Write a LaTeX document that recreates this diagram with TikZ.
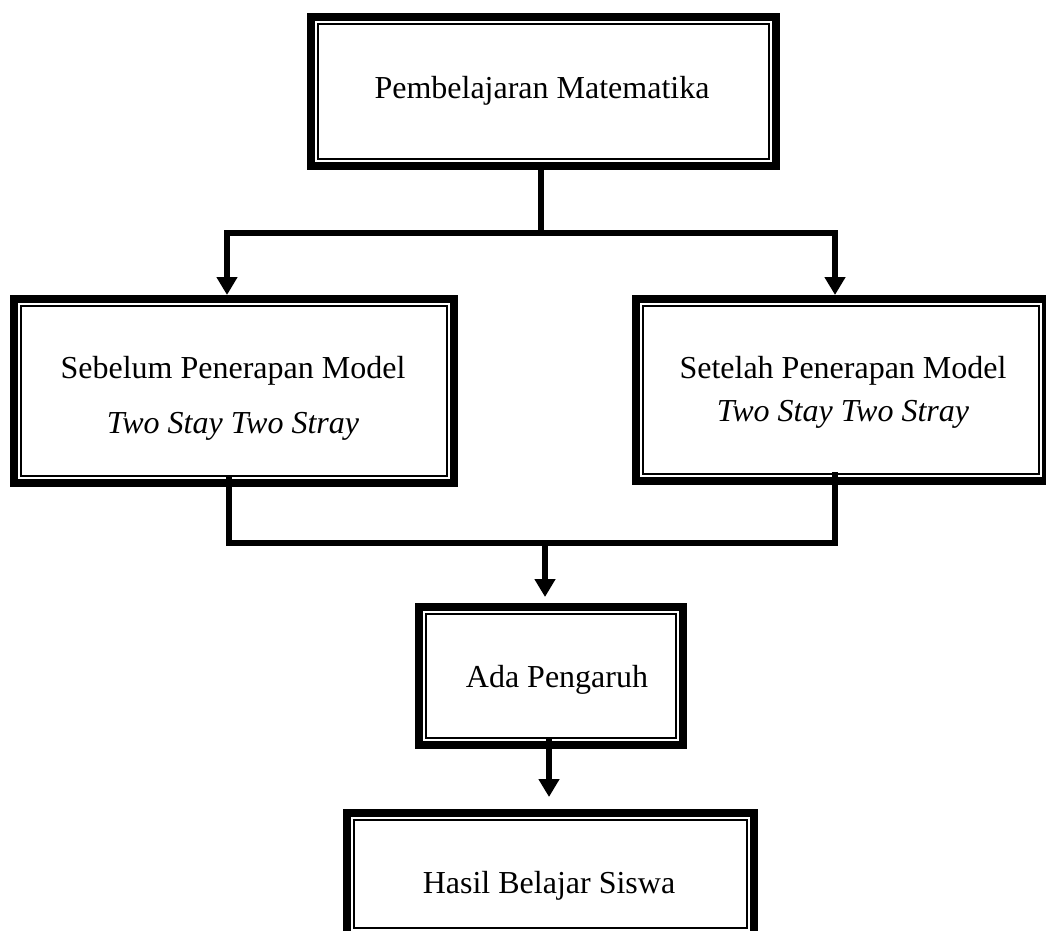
\documentclass[tikz,border=0pt]{standalone}
\usepackage{fontspec}
\setmainfont{Liberation Serif}
\usetikzlibrary{arrows.meta}
\tikzset{
  boxframe/.style={rectangle, draw=none, inner sep=0pt, outer sep=0pt},
  lbl/.style={anchor=base, inner sep=0pt, font=\fontsize{32pt}{38pt}\selectfont},
  conn/.style={line width=6pt, line join=miter},
  tip/.style={-{Triangle[width=20pt,length=18pt]}},
  outerline/.style={line width=8pt},
  innerline/.style={line width=1.8pt}
}
\begin{document}
\begin{tikzpicture}[x=1pt,y=-1pt]
\path[use as bounding box] (0,0) rectangle (1046,930);
\clip (0,0) rectangle (1046,930);
% boxes
\node[boxframe, minimum width=473pt, minimum height=157pt] (topbox) at (543.5,91.5) {};
\node[boxframe, minimum width=448pt, minimum height=192pt] (leftbox) at (234,391) {};
\node[boxframe, minimum width=418pt, minimum height=190pt] (rightbox) at (841,390) {};
\node[boxframe, minimum width=272pt, minimum height=146pt] (midbox) at (551,676) {};
\node[boxframe, minimum width=415pt, minimum height=130pt] (botbox) at (550.5,874) {};
\foreach \n in {topbox,leftbox,rightbox,midbox,botbox}{
  \draw[outerline] ([xshift=4pt,yshift=-4pt]\n.north west) rectangle ([xshift=-4pt,yshift=4pt]\n.south east);
  \draw[innerline] ([xshift=11pt,yshift=-11pt]\n.north west) rectangle ([xshift=-11pt,yshift=11pt]\n.south east);
}
% texts
\node[lbl] (t1) at (542,98) {Pembelajaran Matematika};
\node[lbl] (t2) at (233,378) {Sebelum Penerapan Model};
\node[lbl] (t3) at (233,433) {\itshape Two Stay Two Stray};
\node[lbl] (t4) at (843,378) {Setelah Penerapan Model};
\node[lbl] (t5) at (843,421) {\itshape Two Stay Two Stray};
\node[lbl] (t6) at (557,687) {Ada Pengaruh};
\node[lbl] (t7) at (549,893) {Hasil Belajar Siswa};
% connectors
\coordinate (j1) at (541,233);
\draw[conn] ([xshift=-2.5pt]topbox.south) -- (j1);
\draw[conn, {Triangle[width=20pt,length=18pt]}-{Triangle[width=20pt,length=18pt]}]
  ([xshift=-7pt]leftbox.north) |- (j1) -| ([xshift=-6pt]rightbox.north);
\coordinate (j2) at (545,543);
\draw[conn] ([xshift=-5pt,yshift=12pt]leftbox.south) |- (j2) -| ([xshift=-6pt,yshift=13pt]rightbox.south);
\draw[conn, tip] (j2) -- ([xshift=-6pt,yshift=6pt]midbox.north);
\draw[conn, tip] ([xshift=-2pt,yshift=12pt]midbox.south) -- ([xshift=-1.5pt,yshift=12pt]botbox.north);
\end{tikzpicture}
\end{document}
